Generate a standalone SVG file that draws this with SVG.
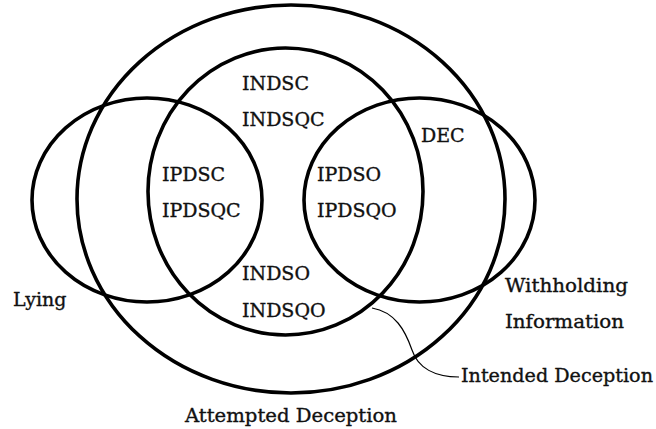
<svg xmlns="http://www.w3.org/2000/svg" width="656" height="429" viewBox="0 0 656 429">
<style>
.set{fill:none;stroke:#000;stroke-width:3.6}
.lead{fill:none;stroke:#000;stroke-width:1.2}
text{font-family:"DejaVu Serif","Liberation Serif",serif;font-size:19px;fill:#111;stroke:#111;stroke-width:0.35}
</style>
<rect width="656" height="429" fill="#fff"/>
<g id="attempted">
<ellipse class="set" cx="291" cy="199" rx="214" ry="194"/>
<text x="185" y="422" textLength="212" lengthAdjust="spacingAndGlyphs">Attempted Deception</text>
</g>
<g id="intended">
<ellipse class="set" cx="285.5" cy="191.5" rx="137.5" ry="143.5"/>
<text x="461" y="382" textLength="192" lengthAdjust="spacingAndGlyphs">Intended Deception</text>
</g>
<g id="lying">
<ellipse class="set" cx="147" cy="200" rx="115" ry="102"/>
<text x="13" y="306">Lying</text>
</g>
<g id="withholding">
<ellipse class="set" cx="419.5" cy="200" rx="115.5" ry="102"/>
<text x="505" y="292" textLength="123" lengthAdjust="spacingAndGlyphs">Withholding</text>
<text x="505" y="328" textLength="119" lengthAdjust="spacingAndGlyphs">Information</text>
</g>
<g id="labels">
<text x="242" y="90">INDSC</text>
<text x="242" y="126">INDSQC</text>
<text x="162" y="181">IPDSC</text>
<text x="162" y="217">IPDSQC</text>
<text x="317" y="181">IPDSO</text>
<text x="317" y="217">IPDSQO</text>
<text x="421" y="142">DEC</text>
<text x="242" y="280">INDSO</text>
<text x="242" y="317">INDSQO</text>
</g>
<g id="connectors">
<path class="lead" d="M372,308 C395,312 405,330 412,350 C418,368 435,377 459,377"/>
</g>
</svg>
